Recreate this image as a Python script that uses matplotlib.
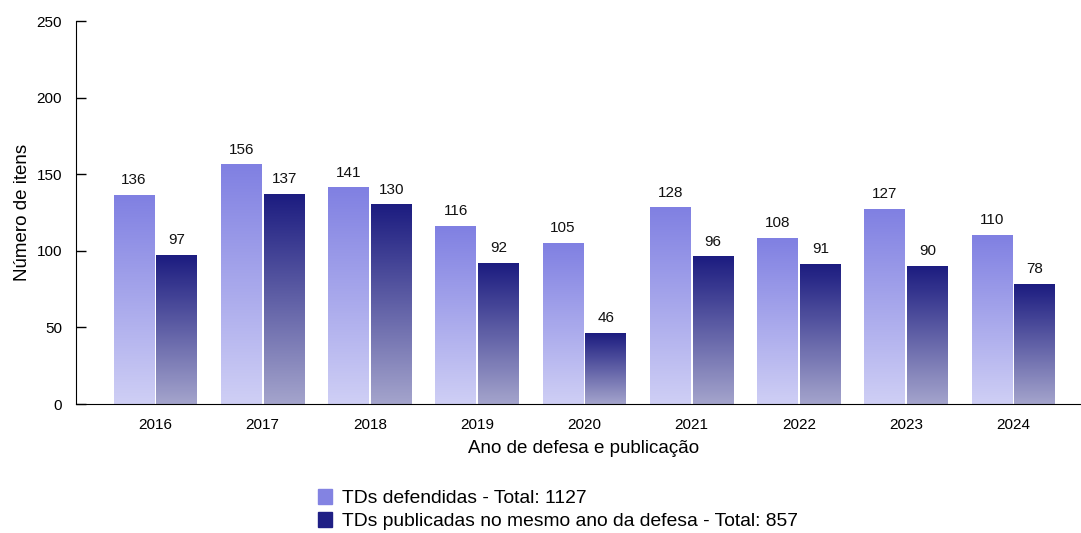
import numpy as np
from matplotlib import pyplot as plt
from matplotlib.colors import LinearSegmentedColormap
from matplotlib.patches import Patch

plt.rcParams['font.family'] = ['Liberation Sans', 'DejaVu Sans']

# Data
anos = ['2016', '2017', '2018', '2019', '2020', '2021', '2022', '2023', '2024']
defendidas = [136, 156, 141, 116, 105, 128, 108, 127, 110]
publicadas = [97, 137, 130, 92, 46, 96, 91, 90, 78]
leg_labels = ['TDs defendidas - Total: 1127',
              'TDs publicadas no mesmo ano da defesa - Total: 857']

# gradient colours (bottom -> top)
cmap_def = LinearSegmentedColormap.from_list('def', ['#cfcff5', '#8080e2'])
cmap_pub = LinearSegmentedColormap.from_list('pub', ['#a4a4cc', '#1c1c80'])

fig = plt.figure(figsize=(10.81, 5.33), dpi=100)
ax = fig.add_axes([0.0703, 0.242, 0.9287, 0.7186])

x = np.arange(len(anos))
w = 0.38
b1 = ax.bar(x - 0.2, defendidas, w, color='none', edgecolor='none')
b2 = ax.bar(x + 0.2, publicadas, w, color='none', edgecolor='none')

grad = np.linspace(0, 1, 256).reshape(-1, 1)
for bars, cm in [(b1, cmap_def), (b2, cmap_pub)]:
    for r in bars:
        x0, h = r.get_x(), r.get_height()
        ax.imshow(grad, cmap=cm, origin='lower', aspect='auto',
                  extent=(x0, x0 + r.get_width(), 0, h), zorder=2)
        ax.annotate(f'{int(h)}', (x0 + r.get_width() / 2, h), xytext=(0, 6),
                    textcoords='offset points', ha='center', va='bottom',
                    fontsize=11, color='#111111')

ax.set_xlim(-0.74, 8.62)
ax.set_ylim(0, 250)
ax.set_yticks([0, 50, 100, 150, 200, 250])
ax.set_xticks(x)
ax.set_xticklabels(anos)
ax.tick_params(axis='x', length=0, pad=10, labelsize=11)
ax.tick_params(axis='y', direction='in', length=7, width=1, pad=10, labelsize=11)
ax.spines['top'].set_visible(False)
ax.spines['right'].set_visible(False)
ax.set_ylabel('Número de itens', fontsize=13.5, labelpad=4)
ax.set_xlabel('Ano de defesa e publicação', fontsize=13.5)
ax.xaxis.set_label_coords(0.506, -0.095)

handles = [Patch(color='#8383e2'), Patch(color='#1f1f85')]
fig.legend(handles, leg_labels, loc='upper left', bbox_to_anchor=(0.287, 0.097),
           frameon=False, fontsize=13.9, handlelength=0.72, handleheight=0.85,
           handletextpad=0.5, labelspacing=0.24, borderaxespad=0)

plt.savefig('out.png', dpi=100)
plt.close()
